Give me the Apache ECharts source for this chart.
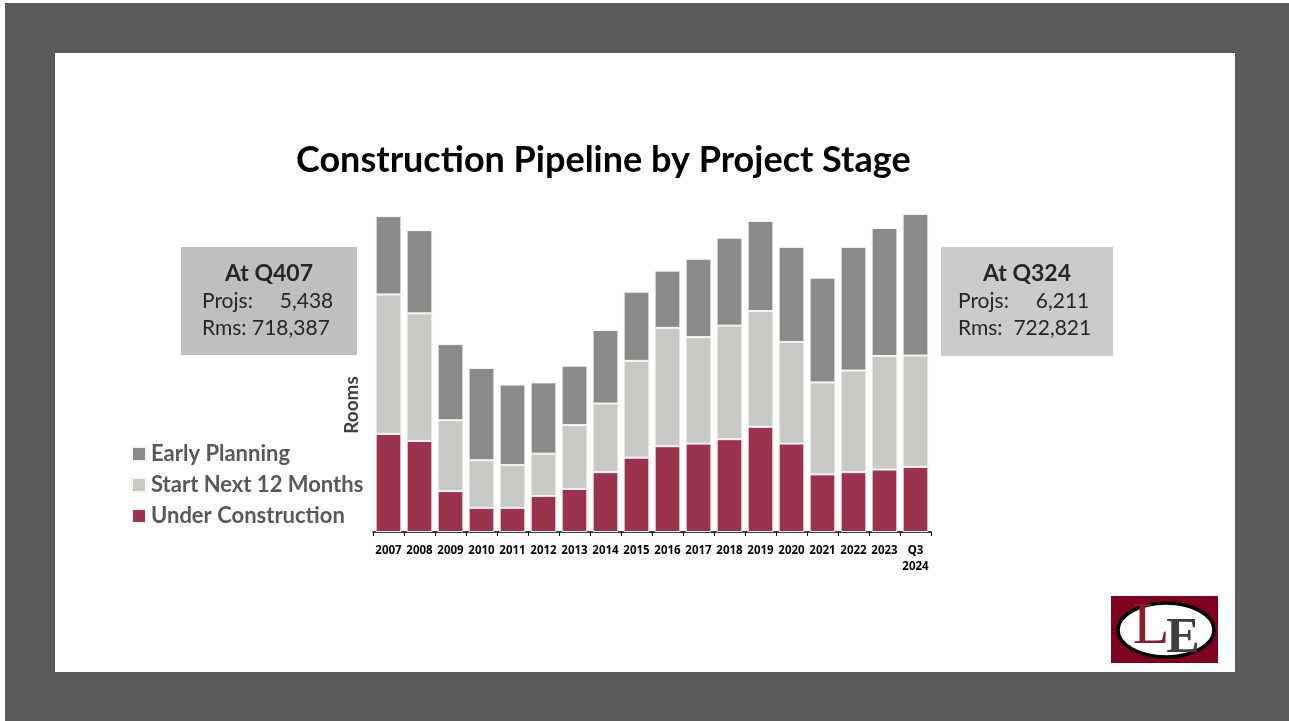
<!DOCTYPE html>
<html>
<head>
<meta charset="utf-8">
<title>Construction Pipeline by Project Stage</title>
<script src="https://cdn.jsdelivr.net/npm/echarts@6/dist/echarts.min.js"></script>
<style>
  html, body { margin: 0; padding: 0; background: #ffffff; }
  #chart { width: 1289px; height: 721px; }
</style>
</head>
<body>
<div id="chart"></div>
<script>
// categories along the bottom
const years = ['2007', '2008', '2009', '2010', '2011', '2012', '2013', '2014', '2015',
  '2016', '2017', '2018', '2019', '2020', '2021', '2022', '2023', 'Q3\n2024']

// rooms in thousands
const underConstruction = [223, 207, 93, 55, 55, 82, 98, 136, 169, 195, 201, 211, 239, 201, 131, 136, 142, 148]
const startNext12 = [317, 290, 161, 108, 97, 96, 145, 156, 220, 269, 242, 258, 263, 231, 209, 231, 258, 253]
const earlyPlanning = [178, 189, 173, 210, 183, 162, 135, 167, 157, 130, 178, 200, 205, 216, 238, 281, 291, 322]

const seriesNames = ['Early Planning', 'Start Next 12 Months', 'Under Construction']

// callout boxes
const leftBox = ['At Q407', 'Projs:     5,438', 'Rms: 718,387']
const rightBox = ['At Q324', 'Projs:     6,211', 'Rms:  722,821']

const myChart = echarts.init(document.getElementById('chart'))

const barStyle = (color) => ({ color: color, borderColor: '#f4f4f4', borderWidth: 1 })
const FONT = 'Lato, "Open Sans", sans-serif'

const option = {
  backgroundColor: '#ffffff',
  animation: false,
  title: {
    text: 'Construction Pipeline by Project Stage',
    left: 291,
    top: 137,
    textStyle: {
      fontFamily: FONT,
      fontSize: 36,
      fontWeight: 'bold',
      color: '#000000'
    }
  },
  legend: {
    data: seriesNames,
    orient: 'vertical',
    left: 126,
    top: 437,
    itemWidth: 14,
    itemHeight: 14,
    itemGap: 7,
    icon: 'rect',
    textStyle: {
      fontFamily: FONT,
      fontSize: 22,
      fontWeight: 'bold',
      color: '#595959',
      lineHeight: 24
    }
  },
  grid: {
    left: 373,
    right: 358,
    top: 180,
    bottom: 189
  },
  xAxis: {
    type: 'category',
    data: years,
    axisLine: { lineStyle: { color: '#000000', width: 1.5 } },
    axisTick: { show: true, length: 4, lineStyle: { color: '#000000' } },
    axisLabel: {
      color: '#000000',
      fontSize: 11.5,
      fontWeight: 'bold',
      fontFamily: '"Liberation Sans Narrow", "Noto Sans", sans-serif',
      lineHeight: 16,
      margin: 11,
      interval: 0
    }
  },
  yAxis: {
    type: 'value',
    min: 0,
    max: 800,
    axisLine: { show: false },
    axisTick: { show: false },
    axisLabel: { show: false },
    splitLine: { show: false }
  },
  series: [
    {
      name: 'Under Construction', type: 'bar', stack: 'pipe',
      barCategoryGap: '17%', data: underConstruction, itemStyle: barStyle('#9b3350')
    },
    {
      name: 'Start Next 12 Months', type: 'bar', stack: 'pipe',
      data: startNext12, itemStyle: barStyle('#c8c9c7')
    },
    {
      name: 'Early Planning', type: 'bar', stack: 'pipe',
      data: earlyPlanning, itemStyle: barStyle('#8a8a8a')
    }
  ],
  graphic: [
    // slide frame
    { type: 'rect', silent: true, z: -10, shape: { x: 5, y: 3, width: 1284, height: 718 }, style: { fill: '#5b5b5b' } },
    { type: 'rect', silent: true, z: -9, shape: { x: 55, y: 53, width: 1180, height: 619 }, style: { fill: '#ffffff' } },
    // y axis title
    { type: 'text', silent: true, x: 352, y: 405, rotation: Math.PI / 2, style: { text: 'Rooms', align: 'center', verticalAlign: 'middle', font: 'bold 19px ' + FONT, fill: '#404040' } },
    // left callout
    { type: 'rect', silent: true, shape: { x: 181, y: 247, width: 176, height: 108 }, style: { fill: '#bfbfbf' } },
    { type: 'text', silent: true, style: { text: leftBox[0], x: 269, y: 274, align: 'center', verticalAlign: 'middle', font: 'bold 23px ' + FONT, fill: '#262626' } },
    { type: 'text', silent: true, style: { text: leftBox[1], x: 202, y: 301, align: 'left', verticalAlign: 'middle', font: '21px ' + FONT, fill: '#262626' } },
    { type: 'text', silent: true, style: { text: leftBox[2], x: 202, y: 328, align: 'left', verticalAlign: 'middle', font: '21px ' + FONT, fill: '#262626' } },
    // right callout
    { type: 'rect', silent: true, shape: { x: 941, y: 247, width: 172, height: 109 }, style: { fill: '#cbcbcb' } },
    { type: 'text', silent: true, style: { text: rightBox[0], x: 1027, y: 274, align: 'center', verticalAlign: 'middle', font: 'bold 23px ' + FONT, fill: '#262626' } },
    { type: 'text', silent: true, style: { text: rightBox[1], x: 958, y: 301, align: 'left', verticalAlign: 'middle', font: '21px ' + FONT, fill: '#262626' } },
    { type: 'text', silent: true, style: { text: rightBox[2], x: 958, y: 328, align: 'left', verticalAlign: 'middle', font: '21px ' + FONT, fill: '#262626' } },
    // logo
    { type: 'rect', silent: true, shape: { x: 1111, y: 596, width: 107, height: 67 }, style: { fill: '#800020' } },
    { type: 'ellipse', silent: true, shape: { cx: 1166, cy: 630, rx: 48, ry: 27 }, style: { fill: '#ffffff', stroke: '#000000', lineWidth: 3.5 } },
    { type: 'text', silent: true, style: { text: 'L', x: 1151, y: 627, align: 'center', verticalAlign: 'middle', font: '60px "Liberation Serif", "DejaVu Serif", serif', fill: '#8b1b2e' } },
    { type: 'text', silent: true, style: { text: 'E', x: 1183, y: 639, align: 'center', verticalAlign: 'middle', font: 'bold 50px "Liberation Serif", "DejaVu Serif", serif', fill: '#404040' } }
  ]
}

myChart.setOption(option)
</script>
</body>
</html>
